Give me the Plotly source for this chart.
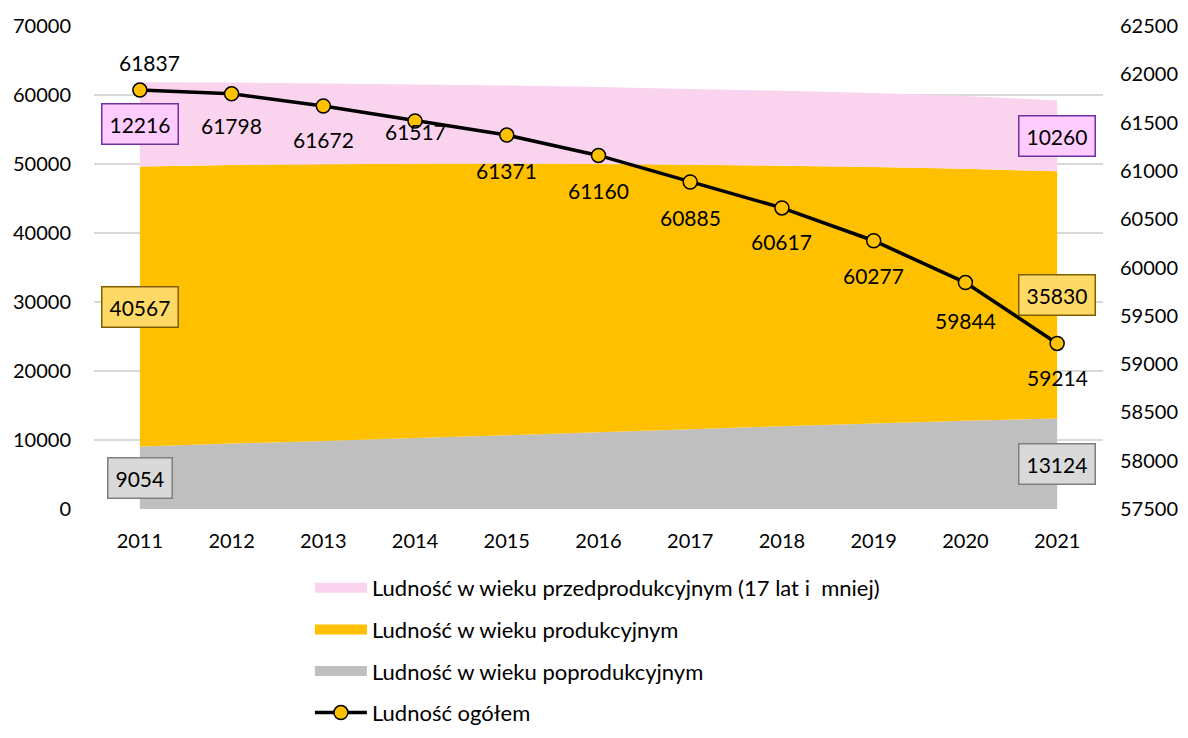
import plotly.graph_objects as go

years = ["2011", "2012", "2013", "2014", "2015", "2016", "2017", "2018", "2019", "2020", "2021"]
pre_productive = [12216, 11948, 11692, 11467, 11311, 11160, 10985, 10867, 10727, 10544, 10260]
productive = [40567, 40370, 40110, 39770, 39360, 38870, 38340, 37760, 37150, 36520, 35830]
post_productive = [9054, 9480, 9870, 10280, 10700, 11130, 11560, 11990, 12400, 12780, 13124]
total = [61837, 61798, 61672, 61517, 61371, 61160, 60885, 60617, 60277, 59844, 59214]

names = {
    "pre": "Ludność w wieku przedprodukcyjnym (17 lat i  mniej)",
    "prod": "Ludność w wieku produkcyjnym",
    "post": "Ludność w wieku poprodukcyjnym",
    "tot": "Ludność ogółem",
}
colors = {"pre": "#FAD4EE", "prod": "#FFC000", "post": "#BFBFBF"}

FONT = "Lato, 'Open Sans', sans-serif"
x = list(range(len(years)))

fig = go.Figure()
fig.add_trace(go.Scatter(x=x, y=post_productive, name=names["post"], stackgroup="s",
                         mode="none", fillcolor=colors["post"], showlegend=False))
fig.add_trace(go.Scatter(x=x, y=productive, name=names["prod"], stackgroup="s",
                         mode="none", fillcolor=colors["prod"], showlegend=False))
fig.add_trace(go.Scatter(x=x, y=pre_productive, name=names["pre"], stackgroup="s",
                         mode="none", fillcolor=colors["pre"], showlegend=False))
# legend-only entries for the areas (wide swatches)
for rank, key in enumerate(["pre", "prod", "post"], start=1):
    fig.add_trace(go.Scatter(x=[None], y=[None], name=names[key], mode="lines",
                             line=dict(color=colors[key], width=14), legendrank=rank,
                             legendgroup=key, showlegend=True))
fig.add_trace(go.Scatter(x=x, y=total, name=names["tot"], yaxis="y2", mode="lines+markers",
                         line=dict(color="#000000", width=3.5),
                         marker=dict(size=14, color="#FFC000", line=dict(color="#000000", width=1.5)),
                         legendrank=4, legendgroup="tot"))

annotations = []
# line labels
offsets = [(10, 28), (0, -32), (0, -34), (0, -11), (0, -35), (0, -35), (0, -35), (0, -34), (0, -35), (0, -38), (0, -34)]
for i, v in enumerate(total):
    annotations.append(dict(x=i, y=v, xref="x", yref="y2", text=str(v), showarrow=False,
                            xshift=offsets[i][0], yshift=offsets[i][1],
                            font=dict(size=21, color="#000000", family=FONT)))

# boxed segment labels at first and last year
styles = [
    (post_productive, "#D9D9D9", "#7F7F7F"),
    (productive, "#FFD966", "#7F6000"),
    (pre_productive, "#FFCCFF", "#7030A0"),
]
for idx in (0, len(years) - 1):
    base = 0
    for series, bg, bc in styles:
        v = series[idx]
        annotations.append(dict(x=idx, y=base + v / 2, xref="x", yref="y", text=str(v), showarrow=False,
                                bgcolor=bg, bordercolor=bc, borderwidth=1.5, borderpad=7,
                                font=dict(size=21, color="#000000", family=FONT)))
        base += v

W, H = 1172, 722
fig.update_layout(
    template="none",
    width=W, height=H,
    margin=dict(l=86, r=77, t=18, b=221, autoexpand=False),
    paper_bgcolor="white", plot_bgcolor="white",
    font=dict(family=FONT, size=21, color="#000000"),
    showlegend=True,
    legend=dict(x=0.214, y=(H - 559) / H, xref="paper", yref="container",
                xanchor="left", yanchor="top", orientation="v",
                traceorder="grouped", tracegroupgap=10, itemwidth=52,
                font=dict(size=22, family=FONT, color="#000000"), bgcolor="rgba(0,0,0,0)",
                borderwidth=0),
    xaxis=dict(range=[-0.5, len(years) - 0.5], tickmode="array", tickvals=x, ticktext=years,
               showgrid=False, zeroline=False, showline=False, ticks="", ticklabelstandoff=18,
               automargin=False, tickfont=dict(size=20, family=FONT, color="#000000")),
    yaxis=dict(range=[0, 70000], dtick=10000, tickformat="d", showgrid=True, gridcolor="#D9D9D9",
               gridwidth=1.5, zeroline=False, showline=False, ticks="", ticklabelstandoff=22,
               automargin=False, tickfont=dict(size=20, family=FONT, color="#000000")),
    yaxis2=dict(range=[57500, 62500], dtick=500, tickformat="d", overlaying="y", side="right",
                showgrid=False, zeroline=False, showline=False, ticks="", ticklabelstandoff=16,
                automargin=False, tickfont=dict(size=20, family=FONT, color="#000000")),
    annotations=annotations,
    hovermode=False,
)

fig.write_html("out.html")
